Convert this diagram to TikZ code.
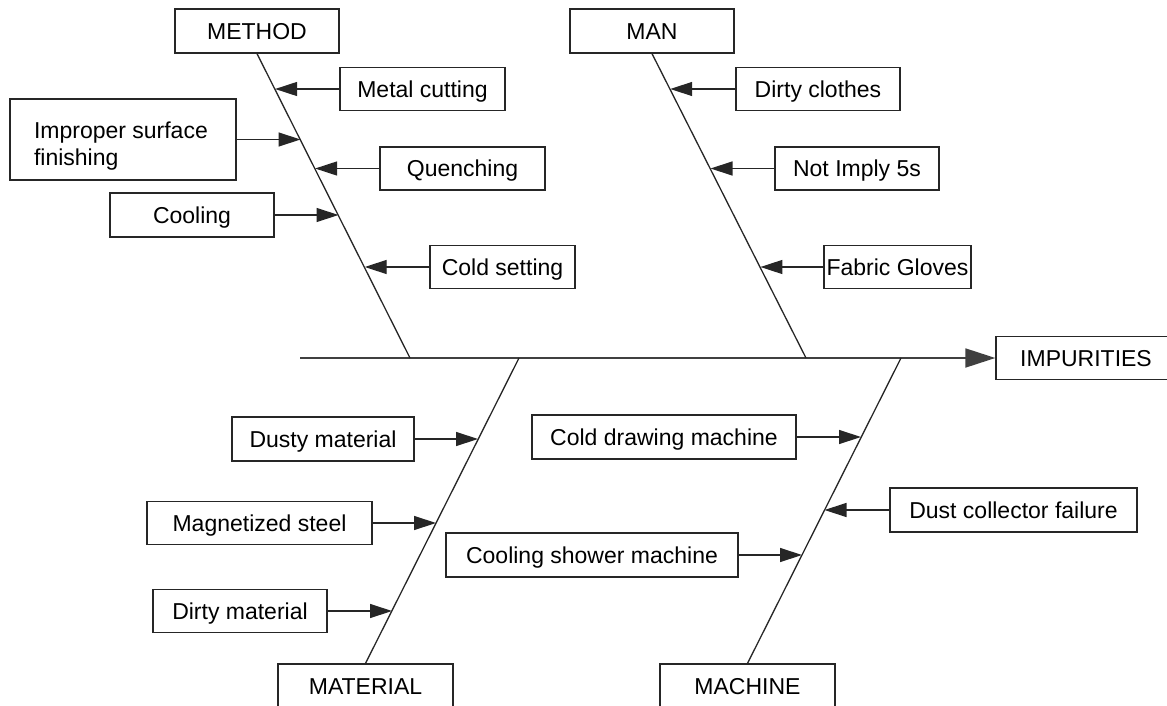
\documentclass[tikz,border=0pt]{standalone}
\usepackage{fontspec}
\setmainfont{Liberation Sans}
\usetikzlibrary{arrows.meta}
\begin{document}
\begin{tikzpicture}[x=1pt,y=-1pt,
  box/.style={draw=black!85, line width=1.3pt, inner sep=0pt, align=center,
    text height=16.5pt, text depth=0pt,
    font=\fontsize{23}{27}\selectfont},
  bone/.style={draw=black!85, line width=1.3pt},
  arr/.style={draw=black!85, line width=1.3pt, -{Triangle[length=22pt,width=14pt]}},
  bigarr/.style={draw=black!75, line width=1.8pt, -{Triangle[length=30pt,width=19pt]}}]
\useasboundingbox (0,0) rectangle (1167,706);
% category boxes
\node[box, minimum width=164pt, minimum height=44pt] (method) at (257,31) {METHOD};
\node[box, minimum width=164pt, minimum height=44pt] (man) at (652,31) {MAN};
\node[box, minimum width=175pt, minimum height=44pt] (material) at (365.5,686) {MATERIAL};
\node[box, minimum width=175pt, minimum height=44pt] (machine) at (747.5,686) {MACHINE};
\node[box, minimum width=180pt, minimum height=43pt] (imp) at (1086,358) {IMPURITIES};
% cause boxes
\node[box, minimum width=165pt, minimum height=43pt] (mc) at (422.5,89) {Metal cutting};
\node[draw=black!85, line width=1.3pt, inner sep=0pt, minimum width=226pt, minimum height=81pt,
  font=\fontsize{23}{27}\selectfont] (ips) at (123,139.5)
  {\raisebox{0pt}[0pt][2.5pt]{\makebox[178pt][l]{\begin{tabular}[t]{@{}l@{}}Improper surface\\finishing\end{tabular}}}};
\node[box, minimum width=165pt, minimum height=43pt] (qu) at (462.5,168.5) {Quenching};
\node[box, minimum width=164pt, minimum height=44pt] (co) at (192,215) {Cooling};
\node[box, minimum width=145pt, minimum height=43pt] (cs) at (502.5,267) {Cold setting};
\node[box, minimum width=164pt, minimum height=43pt] (dc) at (818,89) {Dirty clothes};
\node[box, minimum width=164pt, minimum height=43pt] (ni) at (857,168.5) {Not Imply 5s};
\node[box, minimum width=147pt, minimum height=43pt] (fg) at (897.5,267) {Fabric Gloves};
\node[box, minimum width=182pt, minimum height=44pt] (dm) at (323,439) {Dusty material};
\node[box, minimum width=225pt, minimum height=43pt] (ms) at (259.5,523) {Magnetized steel};
\node[box, minimum width=174pt, minimum height=43pt] (dim) at (240,611) {Dirty material};
\node[box, minimum width=264pt, minimum height=44pt] (cdm) at (664,437) {Cold drawing machine};
\node[box, minimum width=247pt, minimum height=44pt] (dcf) at (1013.5,510) {Dust collector failure};
\node[box, minimum width=292pt, minimum height=44pt] (csm) at (592,555) {Cooling shower machine};
% spine points
\coordinate (sp0) at (300,358);
\coordinate (sMe) at (410,358);
\coordinate (sMa) at (806,358);
\coordinate (sMt) at (519,358);
\coordinate (sMc) at (901,358);
% tips on bones
\coordinate (t1) at (275.1,89);
\coordinate (t2) at (300.5,139.5);
\coordinate (t3) at (315.1,168.5);
\coordinate (t4) at (338.5,215);
\coordinate (t5) at (364.7,267);
\coordinate (t6) at (670.2,89);
\coordinate (t7) at (710.5,168.5);
\coordinate (t8) at (760.4,267);
\coordinate (t9) at (478,439);
\coordinate (t10) at (436,523);
\coordinate (t11) at (392,611);
\coordinate (t12) at (861,437);
\coordinate (t13) at (824.5,510);
\coordinate (t14) at (802,555);
% spine and bones
\draw[bigarr] (sp0) -- (imp.west);
\draw[bone] (method.south) -- (sMe);
\draw[bone] (man.south) -- (sMa);
\draw[bone] (material.north) -- (sMt);
\draw[bone] (machine.north) -- (sMc);
% cause arrows
\draw[arr] (mc.west) -- (t1);
\draw[arr] (ips.east) -- (t2);
\draw[arr] (qu.west) -- (t3);
\draw[arr] (co.east) -- (t4);
\draw[arr] (cs.west) -- (t5);
\draw[arr] (dc.west) -- (t6);
\draw[arr] (ni.west) -- (t7);
\draw[arr] (fg.west) -- (t8);
\draw[arr] (dm.east) -- (t9);
\draw[arr] (ms.east) -- (t10);
\draw[arr] (dim.east) -- (t11);
\draw[arr] (cdm.east) -- (t12);
\draw[arr] (dcf.west) -- (t13);
\draw[arr] (csm.east) -- (t14);
\end{tikzpicture}
\end{document}
